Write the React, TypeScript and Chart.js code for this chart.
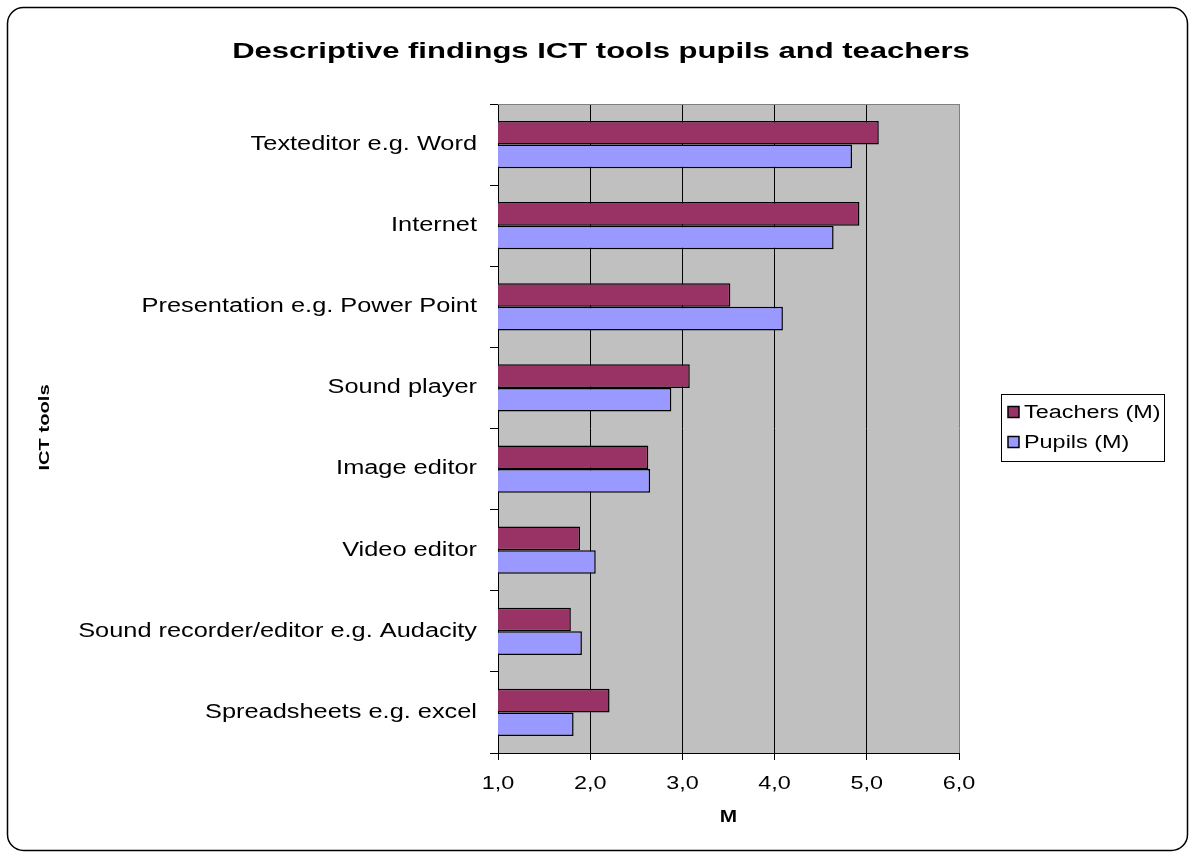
import React, { useEffect, useRef } from 'react';
import { Chart, registerables } from 'chart.js';

Chart.register(...registerables);

// ---- data ----
const categories = [
  'Texteditor e.g. Word',
  'Internet',
  'Presentation e.g. Power Point',
  'Sound player',
  'Image editor',
  'Video editor',
  'Sound recorder/editor e.g. Audacity',
  'Spreadsheets e.g. excel',
];
const teachersMeans = [5.13, 4.92, 3.52, 3.08, 2.63, 1.89, 1.79, 2.21];
const pupilsMeans = [4.84, 4.64, 4.09, 2.88, 2.65, 2.06, 1.91, 1.82];
const seriesNames = ['Teachers (M)', 'Pupils (M)'];
const xTickValues = [1, 2, 3, 4, 5, 6];
const xTickLabels = ['1,0', '2,0', '3,0', '4,0', '5,0', '6,0'];
const chartTitle = 'Descriptive findings ICT tools pupils and teachers';
const xAxisTitle = 'M';
const yAxisTitle = 'ICT tools';

// ---- styling ----
const FONT = '"Liberation Sans", Arial, Helvetica, sans-serif';
const TEACHER_COLOR = '#993366';
const PUPIL_COLOR = '#9999FF';
const PLOT_BG = '#C0C0C0';
const WIDE_TEXT = 1.3; // wide glyphs used throughout the sheet
const TITLE_TEXT = 1.41;

// Draw every glyph run horizontally widened around its anchor point.
function widenText(ctx: any) {
  const original = ctx.fillText;
  ctx.textStretch = WIDE_TEXT;
  ctx.fillText = function (text: string, x: number, y: number, maxWidth?: number) {
    const s = this.textStretch || 1;
    this.save();
    this.translate(x, y);
    this.scale(s, 1);
    if (maxWidth === undefined) original.call(this, text, 0, 0);
    else original.call(this, text, 0, 0, maxWidth / s);
    this.restore();
  };
}

const decorations = {
  id: 'sheetDecorations',
  beforeDraw(chart: any) {
    const { ctx, chartArea: a } = chart;
    ctx.save();
    ctx.fillStyle = '#ffffff';
    ctx.fillRect(0, 0, chart.width, chart.height);
    ctx.fillStyle = PLOT_BG;
    ctx.fillRect(a.left, a.top, a.right - a.left, a.bottom - a.top);
    ctx.restore();
  },
  afterDraw(chart: any) {
    const { ctx, chartArea: a } = chart;
    ctx.save();

    // plot area frame (top edge)
    ctx.strokeStyle = '#808080';
    ctx.lineWidth = 1;
    ctx.beginPath();
    ctx.moveTo(a.left, Math.round(a.top) + 0.5);
    ctx.lineTo(a.right, Math.round(a.top) + 0.5);
    ctx.stroke();

    // chart title
    ctx.fillStyle = '#000';
    ctx.font = `bold 22px ${FONT}`;
    ctx.textAlign = 'center';
    ctx.textBaseline = 'alphabetic';
    ctx.textStretch = TITLE_TEXT;
    ctx.fillText(chartTitle, 601, 58);
    ctx.textStretch = WIDE_TEXT;

    // x axis title
    ctx.font = `bold 16px ${FONT}`;
    ctx.fillText(xAxisTitle, (a.left + a.right) / 2, 822);

    // y axis title
    ctx.save();
    ctx.translate(49, (a.top + a.bottom) / 2 - 1);
    ctx.rotate(-Math.PI / 2);
    ctx.font = `bold 15.5px ${FONT}`;
    ctx.textAlign = 'center';
    ctx.fillText(yAxisTitle, 0, 0);
    ctx.restore();

    // legend
    const lx = 1001, ly = 394, lw = 163, lh = 67;
    ctx.fillStyle = '#fff';
    ctx.fillRect(lx, ly, lw, lh);
    ctx.strokeStyle = '#000';
    ctx.lineWidth = 1;
    ctx.strokeRect(lx + 0.5, ly + 0.5, lw, lh);
    const rows = [412, 442];
    chart.data.datasets.forEach((ds: any, i: number) => {
      const cy = rows[i];
      ctx.fillStyle = ds.backgroundColor;
      ctx.fillRect(1008, cy - 5.5, 11, 11);
      ctx.lineWidth = 1.5;
      ctx.strokeStyle = '#000';
      ctx.strokeRect(1008, cy - 5.5, 11, 11);
      ctx.fillStyle = '#000';
      ctx.font = `18px ${FONT}`;
      ctx.textAlign = 'left';
      ctx.textBaseline = 'middle';
      ctx.fillText(ds.label, 1024, cy + 1);
    });

    // rounded outer frame
    ctx.strokeStyle = '#000';
    ctx.lineWidth = 1.5;
    ctx.beginPath();
    (ctx as any).roundRect(7.5, 7.5, 1180, 843, 16);
    ctx.stroke();

    ctx.restore();
  },
};

export default function App() {
  const canvasRef = useRef<HTMLCanvasElement | null>(null);

  useEffect(() => {
    const canvas = canvasRef.current;
    if (!canvas) return;
    const ctx = canvas.getContext('2d');
    widenText(ctx);

    const chart = new Chart(canvas, {
      type: 'bar',
      data: {
        labels: categories,
        datasets: [
          {
            label: seriesNames[0],
            data: teachersMeans,
            backgroundColor: TEACHER_COLOR,
            borderColor: '#000',
            borderWidth: 1.5,
            borderSkipped: false,
          },
          {
            label: seriesNames[1],
            data: pupilsMeans,
            backgroundColor: PUPIL_COLOR,
            borderColor: '#000',
            borderWidth: 1.5,
            borderSkipped: false,
          },
        ],
      },
      options: {
        indexAxis: 'y',
        responsive: true,
        maintainAspectRatio: false,
        animation: false,
        devicePixelRatio: 1,
        layout: { padding: { top: 104, right: 231, left: 0, bottom: 0 } },
        datasets: {
          bar: { categoryPercentage: 0.583, barPercentage: 1.0 },
        },
        plugins: {
          legend: { display: false },
          title: { display: false },
          tooltip: { enabled: false },
        },
        scales: {
          x: {
            type: 'linear',
            min: 1,
            max: 6,
            afterFit(scale: any) {
              scale.height = 99;
            },
            afterBuildTicks(scale: any) {
              scale.ticks = xTickValues.map((v) => ({ value: v }));
            },
            ticks: {
              autoSkip: false,
              maxRotation: 0,
              minRotation: 0,
              padding: 13,
              color: '#000',
              font: { family: FONT, size: 18 },
              callback: (_v: any, i: number) => xTickLabels[i],
            },
            grid: {
              color: (c: any) => (c.tick && c.tick.value === 6 ? '#808080' : '#000'),
              lineWidth: 1,
              drawTicks: true,
              tickLength: 7,
              tickColor: '#000',
            },
            border: { display: true, color: '#000', width: 1 },
          },
          y: {
            type: 'category',
            afterFit(scale: any) {
              scale.width = 498;
            },
            ticks: {
              autoSkip: false,
              padding: 13,
              color: '#000',
              font: { family: FONT, size: 19.5 },
            },
            grid: {
              offset: true,
              drawOnChartArea: false,
              drawTicks: true,
              tickLength: 8,
              color: '#000',
            },
            border: { display: true, color: '#000', width: 1 },
          },
        },
      } as any,
      plugins: [decorations],
    });

    return () => chart.destroy();
  }, []);

  return (
    <div style={{ position: 'fixed', left: 0, top: 0, width: 1190, height: 852, background: '#fff' }}>
      <canvas ref={canvasRef} />
    </div>
  );
}
